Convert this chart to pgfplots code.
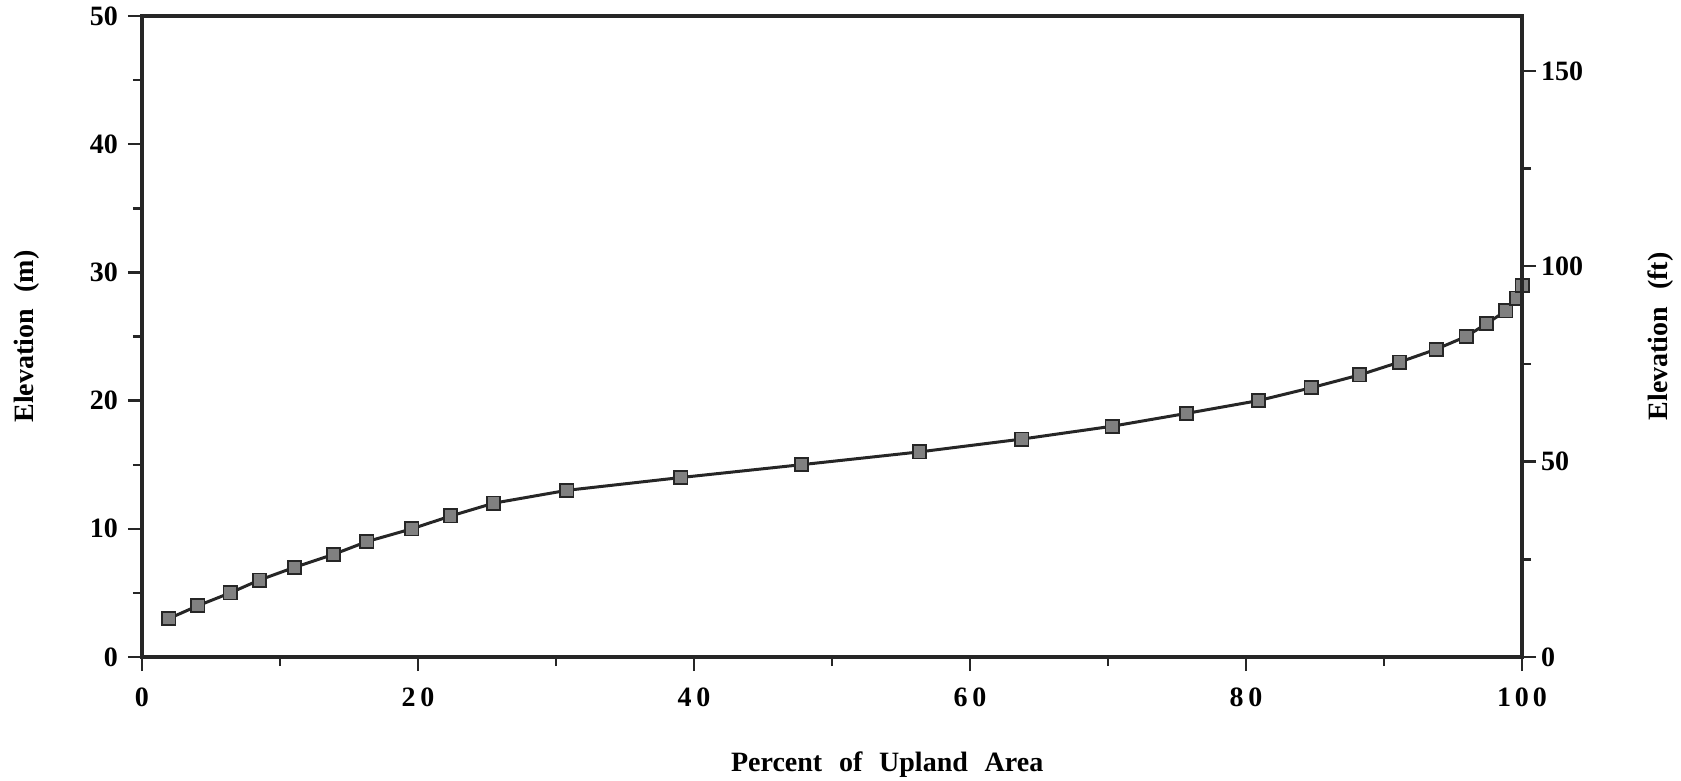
\documentclass[border=0pt]{standalone}
\usepackage{fontspec}
\setmainfont{Liberation Serif}
\usepackage{pgfplots}
\pgfplotsset{compat=1.18}
\newcommand{\gap}{\hspace{0.6em}}
\begin{document}
\begin{tikzpicture}
\useasboundingbox (-71pt,-62pt) rectangle (769.5pt,328.5pt);
\pgfplotsset{
  common/.style={
    at={(0,0)}, anchor=south west,
    scale only axis, width=690pt, height=320.5pt,
    xmin=0, xmax=100,
    tick align=outside,
    major tick length=7pt, minor tick length=4.5pt,
    every tick/.style={line width=1.2pt, color=black!85},
    axis line style={line width=1.6pt, color=black!85},
    tick label style={font=\bfseries\fontsize{14}{16}\selectfont},
    label style={font=\bfseries\fontsize{14}{16}\selectfont},
    /pgf/number format/assume math mode=true,
  }
}
\begin{axis}[common,
  ymin=0, ymax=50,
  xtick pos=bottom, ytick pos=left,
  xtick={0,20,...,100}, ytick={0,10,...,50},
  xticklabels={0,{2\hspace{2.5pt}0},{4\hspace{2.5pt}0},{6\hspace{2.5pt}0},{8\hspace{2.5pt}0},{1\hspace{2pt}0\hspace{2pt}0}},
  minor x tick num=1, minor y tick num=1,
  xticklabel style={yshift=-5pt},
  yticklabel style={xshift=-1.5pt},
  ylabel={Elevation\gap(m)},
  ylabel style={at={(axis description cs:-0.0834,0.5)}, anchor=center},
  xlabel={Percent\gap of\gap Upland\gap Area},
  xlabel style={at={(axis description cs:0.54,-0.1685)}, anchor=center},
]
\addplot[line width=1.5pt, color=black!85, mark=square*, mark size=3.3pt,
  mark options={fill=black!50, draw=black!85, line width=0.9pt}] coordinates {
(1.95,3) (4.05,4) (6.39,5) (8.50,6) (11.07,7) (13.87,8) (16.29,9) (19.56,10)
(22.37,11) (25.49,12) (30.79,13) (39.05,14) (47.78,15) (56.35,16) (63.76,17)
(70.30,18) (75.68,19) (80.90,20) (84.72,21) (88.23,22) (91.12,23) (93.77,24)
(95.95,25) (97.43,26) (98.83,27) (99.61,28) (100,29)
};
\end{axis}
\begin{axis}[common,
  ymin=0, ymax=164.042,
  axis x line=none, axis y line*=right,
  ytick={0,50,100,150}, minor y tick num=1,
  yticklabel style={xshift=-1pt},
  ylabel={Elevation\gap(ft)},
  ylabel style={at={(axis description cs:1.1003,0.5)}, anchor=center, rotate=0},
]
\end{axis}
\end{tikzpicture}
\end{document}
